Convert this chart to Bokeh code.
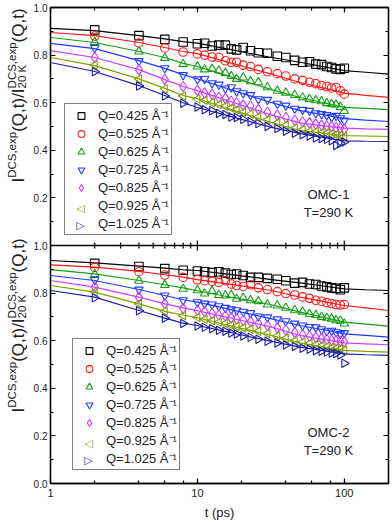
import math
from bokeh.plotting import figure
from bokeh.layouts import row
from bokeh.models import (Label, Legend, LegendItem, LogAxis, LinearAxis, FixedTicker,
                          LogTicker, PrintfTickFormatter, CustomJSTickFormatter, Range1d, Span)
from bokeh.embed import file_html
from bokeh.resources import INLINE

# ---------------- data ----------------
t_data = [2, 4, 6, 8, 10, 11.2, 12.6, 14, 15.5, 17, 18.5, 20.5, 23, 26, 30,
          35, 40, 46, 52, 58, 64, 70, 76, 82, 88, 94, 100]
t_fit = [1, 2, 4, 6, 8, 10, 15, 20, 32, 50, 70, 100, 140, 200]

q_labels = ["Q=0.425 Å⁻¹", "Q=0.525 Å⁻¹", "Q=0.625 Å⁻¹", "Q=0.725 Å⁻¹",
            "Q=0.825 Å⁻¹", "Q=0.925 Å⁻¹", "Q=1.025 Å⁻¹"]

# OMC-1 measured ratios
omc1_q0425 = [.906, .882, .866, .855, .848, .850, .838, .842, .842, .826, .822, .832, .818, .810, .808,
              .795, .790, .778, .770, .772, .762, .760, .752, .748, .742, .740, .745]
omc1_q0525 = [.880, .851, .830, .813, .805, .800, .792, .790, .776, .770, .770, .758, .752, .740, .730,
              .722, .712, .700, .694, .686, .680, .672, .668, .662, .664, .650, .636]
omc1_q0625 = [.855, .815, .788, .762, .752, .740, .742, .735, .725, .712, .700, .706, .690, .686, .665,
              .650, .642, .632, .622, .616, .610, .606, .598, .594, .592, .582, .565]
omc1_q0725 = [.830, .775, .745, .716, .698, .700, .682, .676, .660, .665, .648, .640, .632, .615, .612,
              .596, .588, .575, .570, .566, .556, .552, .548, .540, .545, .535, .525]
omc1_q0825 = [.790, .738, .698, .668, .652, .640, .636, .622, .618, .606, .600, .590, .586, .572, .560,
              .548, .538, .526, .520, .515, .510, .506, .502, .500, .496, .494, .488]
omc1_q0925 = [.758, .700, .658, .628, .615, .610, .600, .592, .585, .578, .570, .560, .552, .540, .528,
              .515, .505, .492, .486, .480, .478, .474, .472, .468, .465, .462, .458]
omc1_q1025 = [.730, .670, .628, .598, .582, .570, .566, .555, .550, .540, .538, .530, .520, .512, .500,
              .492, .480, .472, .465, .460, .452, .450, .446, .440, .420, .430, .435]

# OMC-1 fitted curves
omc1_fit_q0425 = [.912, .903, .882, .868, .857, .850, .829, .814, .790, .770, .753, .735, .728, .720]
omc1_fit_q0525 = [.895, .882, .853, .832, .815, .806, .776, .755, .720, .685, .663, .640, .631, .622]
omc1_fit_q0625 = [.874, .853, .815, .790, .765, .752, .718, .694, .655, .622, .602, .580, .576, .571]
omc1_fit_q0725 = [.849, .827, .777, .744, .718, .700, .665, .640, .600, .567, .551, .533, .527, .521]
omc1_fit_q0825 = [.819, .790, .739, .697, .668, .651, .615, .590, .548, .515, .504, .493, .490, .488]
omc1_fit_q0925 = [.790, .756, .700, .660, .630, .617, .582, .557, .517, .483, .473, .462, .460, .458]
omc1_fit_q1025 = [.769, .731, .672, .630, .600, .580, .551, .530, .496, .470, .455, .440, .438, .437]

# OMC-2 measured ratios
omc2_q0425 = [.925, .912, .903, .896, .893, .890, .886, .890, .884, .878, .880, .874, .866, .866, .862,
              .858, .852, .842, .845, .838, .836, .830, .826, .822, .820, .814, .822]
omc2_q0525 = [.908, .890, .876, .866, .856, .852, .850, .845, .852, .838, .832, .828, .835, .822, .815,
              .806, .798, .792, .784, .778, .770, .766, .760, .756, .752, .750, .752]
omc2_q0625 = [.880, .852, .834, .818, .812, .798, .808, .792, .790, .792, .776, .780, .770, .766, .752,
              .748, .738, .728, .722, .712, .708, .700, .696, .692, .686, .684, .672]
omc2_q0725 = [.855, .815, .790, .770, .762, .756, .752, .745, .738, .732, .728, .722, .716, .702, .698,
              .690, .682, .672, .664, .658, .656, .648, .640, .642, .636, .628, .632]
omc2_q0825 = [.826, .782, .756, .736, .728, .722, .714, .708, .704, .696, .692, .686, .680, .672, .664,
              .654, .645, .634, .625, .620, .614, .610, .606, .602, .600, .598, .595]
omc2_q0925 = [.806, .756, .724, .706, .698, .690, .684, .678, .672, .666, .660, .654, .648, .640, .630,
              .620, .610, .600, .594, .588, .582, .578, .574, .570, .566, .564, .560]
omc2_q1025 = [.780, .726, .694, .672, .662, .656, .650, .644, .640, .632, .628, .620, .614, .606, .598,
              .590, .582, .576, .568, .564, .558, .556, .552, .548, .546, .540, .505]

# OMC-2 fitted curves
omc2_fit_q0425 = [.937, .927, .913, .905, .898, .895, .882, .872, .857, .843, .831, .818, .814, .811]
omc2_fit_q0525 = [.919, .909, .891, .877, .867, .857, .841, .830, .811, .783, .766, .748, .738, .727]
omc2_fit_q0625 = [.899, .881, .853, .835, .822, .810, .789, .775, .751, .720, .700, .678, .670, .661]
omc2_fit_q0725 = [.874, .853, .815, .790, .772, .762, .738, .720, .692, .664, .647, .629, .622, .615]
omc2_fit_q0825 = [.853, .825, .783, .755, .738, .726, .702, .685, .657, .622, .607, .591, .587, .583]
omc2_fit_q0925 = [.832, .804, .755, .723, .708, .696, .670, .652, .622, .591, .575, .559, .555, .552]
omc2_fit_q1025 = [.811, .783, .727, .695, .674, .664, .641, .624, .597, .573, .559, .545, .541, .538]

omc1_series = [omc1_q0425, omc1_q0525, omc1_q0625, omc1_q0725, omc1_q0825, omc1_q0925, omc1_q1025]
omc1_fits = [omc1_fit_q0425, omc1_fit_q0525, omc1_fit_q0625, omc1_fit_q0725, omc1_fit_q0825,
             omc1_fit_q0925, omc1_fit_q1025]
omc2_series = [omc2_q0425, omc2_q0525, omc2_q0625, omc2_q0725, omc2_q0825, omc2_q0925, omc2_q1025]
omc2_fits = [omc2_fit_q0425, omc2_fit_q0525, omc2_fit_q0625, omc2_fit_q0725, omc2_fit_q0825,
             omc2_fit_q0925, omc2_fit_q1025]

# axis ticks: the two stacked panels share one frame; upper panel is drawn on range "top"
y_major = [0.0, 0.2, 0.4, 0.6, 0.8, 1.0, 1.2, 1.4, 1.6, 1.8, 2.0]
y_minor = [0.1, 0.3, 0.5, 0.7, 0.9, 1.1, 1.3, 1.5, 1.7, 1.9]
x_major = [1, 10, 100]
x_minor = [2, 3, 4, 5, 6, 7, 8, 9, 20, 30, 40, 50, 60, 70, 80, 90, 200]

# ---------------- style ----------------
colors = ["#000000", "#ff1a1a", "#14a014", "#1f3cff", "#cc3dff", "#7f9f00", "#1c1ca8"]
markers = ["square", "circle", "triangle", "inverted_triangle", "diamond", "triangle", "triangle"]
angles = [0, 0, 0, 0, 0, math.pi / 2, -math.pi / 2]
sizes = [8.5, 8.5, 8.5, 8.5, 10.5, 8.5, 8.5]
FONT = "Liberation Sans"
H = 522
LW = 30                   # width of the strip holding the y-axis titles
W = 392 - LW
BL, BR, BT, BB = 16, 4, 7, 39
FH = H - BT - BB          # frame height (both panels)
PH = FH / 2               # one panel, px


def style_axis(ax, labels=True, size="10px"):
    ax.major_tick_in = 5
    ax.major_tick_out = 0
    ax.minor_tick_in = 3
    ax.minor_tick_out = 0
    ax.axis_line_width = 1.3
    ax.axis_line_color = "black"
    ax.major_tick_line_width = 1.2
    ax.minor_tick_line_width = 1.2
    ax.major_tick_line_color = "black"
    ax.minor_tick_line_color = "black"
    ax.major_label_text_font = FONT
    ax.major_label_text_color = "#222222"
    ax.major_label_text_font_size = size
    if labels:
        ax.major_label_standoff = 3
    else:
        ax.formatter = CustomJSTickFormatter(code="return ''")
        ax.major_label_standoff = 0


p = figure(width=W, height=H, x_axis_type="log",
           x_range=Range1d(1, 200), y_range=Range1d(0, 2),
           output_backend="svg", toolbar_location=None,
           min_border_left=BL, min_border_right=BR, min_border_top=BT, min_border_bottom=BB)
p.extra_y_ranges = {"top": Range1d(-1, 1)}
p.grid.visible = False
p.outline_line_color = "black"
p.outline_line_width = 1.3

p.yaxis.ticker = FixedTicker(ticks=y_major, minor_ticks=y_minor)
p.yaxis.formatter = CustomJSTickFormatter(
    code="const v = tick > 1.0001 ? tick - 1 : tick; return v.toFixed(1);")
style_axis(p.yaxis[0])

p.xaxis.ticker = LogTicker()
p.xaxis.formatter = PrintfTickFormatter(format="%d")
style_axis(p.xaxis[0], size="11px")
p.xaxis.major_label_standoff = 5
p.xaxis.axis_label = "t (ps)"
p.xaxis.axis_label_text_font = FONT
p.xaxis.axis_label_text_font_size = "13px"
p.xaxis.axis_label_text_font_style = "normal"
p.xaxis.axis_label_text_color = "#222222"
p.xaxis.axis_label_standoff = 5

ra = LinearAxis(ticker=FixedTicker(ticks=y_major, minor_ticks=y_minor))
style_axis(ra, labels=False)
p.add_layout(ra, "right")
ta = LogAxis(ticker=LogTicker())
style_axis(ta, labels=False)
p.add_layout(ta, "above")

# divider between the two panels, with inward ticks on both sides
p.add_layout(Span(location=1.0, dimension="width", line_color="black", line_width=1.3))
d_major = 5 / PH * 1.0
d_minor = 3 / PH * 1.0
p.segment(x0=x_major, x1=x_major, y0=[1 - d_major] * len(x_major), y1=[1 + d_major] * len(x_major),
          line_color="black", line_width=1.2)
p.segment(x0=x_minor, x1=x_minor, y0=[1 - d_minor] * len(x_minor), y1=[1 + d_minor] * len(x_minor),
          line_color="black", line_width=1.2)


def draw_panel(series, fits, name, range_name, legend_loc):
    items = []
    for k, (ys, fy, c, m, a, s, lab) in enumerate(
            zip(series, fits, colors, markers, angles, sizes, q_labels)):
        p.line(t_fit, fy, line_color=c, line_width=1.2, y_range_name=range_name)
        r = p.scatter(t_data, ys, marker=m, angle=a, size=s, line_color=c,
                      fill_color=None, line_width=1.1, y_range_name=range_name)
        if a != 0:
            # legend glyphs are never rotated: keep this item's legend glyph blank
            # and draw the sideways triangle as a symbol under the see-through legend
            r = p.scatter(t_data, ys, marker=m, size=s, line_alpha=0, fill_alpha=0,
                          y_range_name=range_name)
        items.append(LegendItem(label=lab, renderers=[r]))
    leg = Legend(items=items, location=legend_loc, orientation="vertical",
                 border_line_color="black", border_line_width=1.2,
                 background_fill_alpha=0.0,
                 label_text_font=FONT, label_text_font_size="13px",
                 label_text_color="#222222",
                 label_height=17, glyph_height=17, glyph_width=28,
                 label_standoff=3, spacing=0, padding=2, margin=0)
    gx = legend_loc[0] + 2 + 14
    for k, (ch, c) in enumerate([("▷", colors[6]), ("◁", colors[5])]):
        p.add_layout(Label(x=gx, y=legend_loc[1] + 2 + 8.5 + 17 * k, x_units="screen", y_units="screen",
                           text=ch, text_align="center", text_baseline="middle",
                           text_font="DejaVu Sans", text_font_size="11px", text_color=c))
    p.add_layout(leg)
    p.add_layout(Label(x=78, y=0.215, y_range_name=range_name, text=name, text_align="center",
                       text_baseline="middle", text_font=FONT, text_font_size="13px",
                       text_color="#222222"))
    p.add_layout(Label(x=78, y=0.14, y_range_name=range_name, text="T=290 K", text_align="center",
                       text_baseline="middle", text_font=FONT, text_font_size="13px",
                       text_color="#222222"))


draw_panel(omc1_series, omc1_fits, "OMC-1", "top", (14, int(PH) + 10))
draw_panel(omc2_series, omc2_fits, "OMC-2", "default", (22, 13))

# ---------------- y-axis titles (strip left of the plot) ----------------
q = figure(width=LW, height=H, x_range=Range1d(0, 1), y_range=Range1d(0, 1),
           x_axis_location=None, y_axis_location=None,
           output_backend="svg", toolbar_location=None,
           min_border_left=0, min_border_right=0, min_border_top=0, min_border_bottom=0)
q.grid.visible = False
q.outline_line_color = None


def add_ylabel(y_center):
    F, S = 17, 11.5
    xb = 18
    pieces = [
        [("I", F, 0)], [("DCS,exp", S, -6.5)], [("(Q,t)/I", F, 0)],
        [("DCS,exp", S, -6.5), ("20 K", S, 3.5)], [("(Q,t)", F, 0)],
    ]
    widths = [0.278 * F, 4.001 * S, 2.556 * F, 4.001 * S, 2.0 * F]
    total = sum(widths)
    u = y_center - total / 2
    for grp, w in zip(pieces, widths):
        for txt, fs, dx in grp:
            q.add_layout(Label(x=xb + dx, y=u, x_units="screen", y_units="screen",
                               text=txt, angle=math.pi / 2, text_font=FONT,
                               text_font_size=f"{fs}px", text_color="#222222",
                               text_align="left", text_baseline="alphabetic"))
        u += w


add_ylabel(H - BT - PH / 2 - 8)
add_ylabel(BB + PH / 2)

layout = row(q, p, spacing=0)
open("out.html", "w").write(file_html(layout, INLINE))
